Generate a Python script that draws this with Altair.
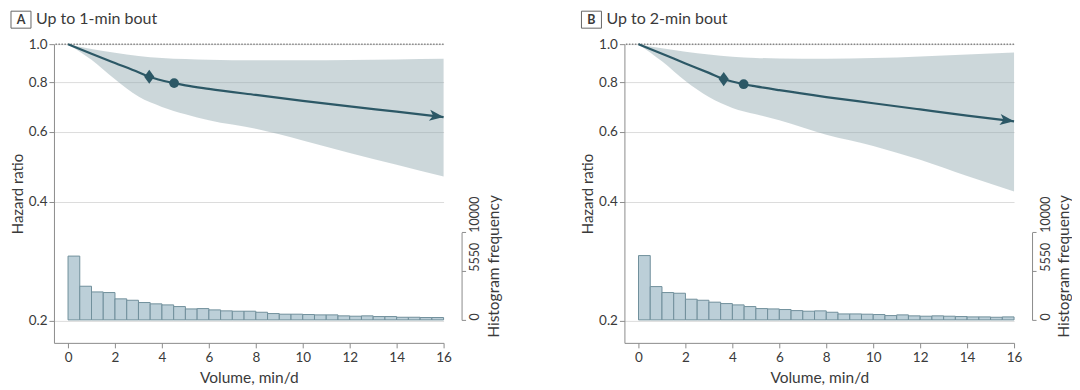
import altair as alt
import pandas as pd

FONT = "Lato"
INK = "#3a3a3a"
AXIS_GREY = "#8c8c8c"
GRID_GREY = "#dcdcdc"
CURVE = "#2c5866"
BAND = "#8fa6ae"
BAR_FILL = "#bccfd8"
BAR_EDGE = "#70909c"

panel_letters = ["A", "B"]
panel_titles = ["Up to 1-min bout", "Up to 2-min bout"]

hr_ticks = [0.2, 0.4, 0.6, 0.8, 1.0]
volume_ticks = [0, 2, 4, 6, 8, 10, 12, 14, 16]
freq_ticks = [0, 5550, 10000]
reference_hr = [1.0]

# confidence band
band_volume = [0, 1, 2, 3, 4, 5, 6, 8, 10, 12, 14, 16]
a_ci_lower = [1.0, 0.913, 0.815, 0.737, 0.694, 0.665, 0.642, 0.611, 0.571, 0.531, 0.496, 0.463]
a_ci_upper = [1.0, 0.972, 0.951, 0.934, 0.923, 0.917, 0.913, 0.910, 0.910, 0.912, 0.915, 0.918]
b_ci_lower = [1.0, 0.905, 0.807, 0.735, 0.690, 0.665, 0.642, 0.590, 0.553, 0.510, 0.464, 0.424]
b_ci_upper = [1.0, 0.976, 0.957, 0.941, 0.929, 0.923, 0.920, 0.918, 0.922, 0.931, 0.941, 0.952]

# hazard-ratio curves
a_curve_volume = [0, 1, 2, 3, 3.46, 4.52, 5, 6, 8, 10, 12, 14, 16]
a_curve_hr = [1.0, 0.946, 0.896, 0.849, 0.827, 0.797, 0.787, 0.771, 0.744, 0.719, 0.696, 0.675, 0.654]
b_curve_volume = [0, 1, 2, 3, 3.63, 4.48, 5, 6, 8, 10, 12, 14, 16]
b_curve_hr = [1.0, 0.946, 0.894, 0.846, 0.816, 0.792, 0.782, 0.765, 0.735, 0.709, 0.684, 0.660, 0.638]

# highlighted points (diamond and dot)
a_diamond = [3.46, 0.827]
a_dot = [4.52, 0.797]
b_diamond = [3.63, 0.816]
b_dot = [4.48, 0.792]

# histogram of volume (0.5-min/d bins)
bin_start = [0.0, 0.5, 1.0, 1.5, 2.0, 2.5, 3.0, 3.5, 4.0, 4.5, 5.0, 5.5, 6.0, 6.5, 7.0, 7.5,
             8.0, 8.5, 9.0, 9.5, 10.0, 10.5, 11.0, 11.5, 12.0, 12.5, 13.0, 13.5, 14.0, 14.5, 15.0, 15.5]
bin_end = [0.5, 1.0, 1.5, 2.0, 2.5, 3.0, 3.5, 4.0, 4.5, 5.0, 5.5, 6.0, 6.5, 7.0, 7.5, 8.0,
           8.5, 9.0, 9.5, 10.0, 10.5, 11.0, 11.5, 12.0, 12.5, 13.0, 13.5, 14.0, 14.5, 15.0, 15.5, 16.0]
a_freq = [7280, 3840, 3190, 3120, 2400, 2240, 1980, 1830, 1710, 1520, 1250, 1290, 1140, 1030, 990, 990,
          870, 720, 650, 650, 610, 570, 570, 460, 420, 460, 380, 380, 300, 300, 270, 270]
b_freq = [7340, 3800, 3120, 3040, 2360, 2240, 2020, 1860, 1710, 1520, 1290, 1250, 1180, 1060, 990, 1030,
          870, 680, 680, 650, 610, 490, 570, 460, 420, 460, 420, 380, 340, 340, 300, 340]

ARROW = "M1,0L-1,-0.8L-0.5,0L-1,0.8Z"
DIAMOND = "M0,-1L0.72,0L0,1L-0.72,0Z"

W, H = 390, 299


def panel(letter, title, curve_v, curve_hr, lo, hi, diamond, dot, freq):
    xs = alt.Scale(domain=[-0.6, 16], nice=False, zero=False)
    ys = alt.Scale(type="log", domain=[0.1758, 1.0], nice=False)
    x_axis = alt.Axis(values=volume_ticks, format="d", title="Volume, min/d", grid=False,
                      tickSize=5, labelPadding=3, titlePadding=6, labelFlush=False)
    y_axis = alt.Axis(values=hr_ticks, format=".1f", title="Hazard ratio", grid=True,
                      gridColor=GRID_GREY, tickSize=5, labelPadding=2, titlePadding=3,
                      titleFontSize=15)

    def X(f):
        return alt.X(f, type="quantitative", scale=xs, axis=x_axis)

    def Y(f):
        return alt.Y(f, type="quantitative", scale=ys, axis=y_axis)

    band_df = pd.DataFrame({"volume": band_volume, "lower": lo, "upper": hi})
    curve_df = pd.DataFrame({"volume": curve_v, "hr": curve_hr})
    ref_df = pd.DataFrame({"hr": reference_hr})
    dia_df = pd.DataFrame({"volume": [diamond[0]], "hr": [diamond[1]]})
    dot_df = pd.DataFrame({"volume": [dot[0]], "hr": [dot[1]]})
    end_df = curve_df.tail(1)
    hist_df = pd.DataFrame({"start": bin_start, "end": bin_end, "freq": freq})
    hdr_df = pd.DataFrame({"letter": [letter], "title": [title]})

    band = alt.Chart(band_df).mark_area(color=BAND, opacity=0.45, interpolate="monotone").encode(
        x=X("volume"), y=Y("lower"), y2="upper:Q")
    ref = alt.Chart(ref_df).mark_rule(color="#555555", strokeDash=[1.5, 1.5], strokeWidth=1).encode(
        y=Y("hr"))
    curve = alt.Chart(curve_df).mark_line(color=CURVE, strokeWidth=2.2, interpolate="monotone").encode(
        x=X("volume"), y=Y("hr"))
    dia = alt.Chart(dia_df).mark_point(shape=DIAMOND, size=200, filled=True, fill=CURVE,
                                       strokeWidth=0, opacity=1).encode(x=X("volume"), y=Y("hr"))
    dt = alt.Chart(dot_df).mark_point(shape="circle", size=95, filled=True, fill=CURVE,
                                      strokeWidth=0, opacity=1).encode(x=X("volume"), y=Y("hr"))
    arrow = alt.Chart(end_df).mark_point(shape=ARROW, size=200, filled=True, fill=CURVE, strokeWidth=0,
                                         opacity=1, angle=7, xOffset=-7, yOffset=-1).encode(
        x=X("volume"), y=Y("hr"))

    hr_layers = alt.layer(band, ref, curve, dia, dt, arrow)

    hist = alt.Chart(hist_df).mark_bar(fill=BAR_FILL, stroke=BAR_EDGE, strokeWidth=1, opacity=1).encode(
        x=X("start"), x2="end:Q",
        y=alt.Y("freq:Q", scale=alt.Scale(domain=[0, 10000], range=[276, 188.3], nice=False),
                axis=alt.Axis(orient="right", offset=18, values=freq_ticks, format="d",
                              title="Histogram frequency", grid=False, tickSize=4,
                              labelAngle=270, labelAlign="left", labelBaseline="top",
                              labelFontSize=12.5, labelPadding=3, labelFlush=False, labelOverlap=False,
                              titleAngle=270, titleBaseline="top", titlePadding=5, titleY=222)),
        y2=alt.datum(0))

    box = alt.Chart(hdr_df).mark_rect(fill="white", stroke="#666666", strokeWidth=1).encode(
        x=alt.value(-43), x2=alt.value(-23), y=alt.value(-33), y2=alt.value(-16))
    let = alt.Chart(hdr_df).mark_text(font=FONT, fontSize=12.5, fontWeight="bold", color=INK,
                                      align="center", baseline="middle").encode(
        x=alt.value(-33), y=alt.value(-24.5), text="letter:N")
    ttl = alt.Chart(hdr_df).mark_text(font=FONT, fontSize=16, color=INK, align="left",
                                      baseline="middle").encode(
        x=alt.value(-18), y=alt.value(-25), text="title:N")

    return alt.layer(hr_layers, hist, box, let, ttl).resolve_scale(y="independent").properties(
        width=W, height=H)


pa = panel(panel_letters[0], panel_titles[0], a_curve_volume, a_curve_hr, a_ci_lower, a_ci_upper,
           a_diamond, a_dot, a_freq)
pb = panel(panel_letters[1], panel_titles[1], b_curve_volume, b_curve_hr, b_ci_lower, b_ci_upper,
           b_diamond, b_dot, b_freq)

chart = alt.hconcat(pa, pb, spacing=181, bounds="flush").properties(
    padding={"left": 2, "top": 2, "right": 0, "bottom": 0}).configure_view(
    stroke=None).configure_axis(
    labelFont=FONT, titleFont=FONT, labelColor=INK, titleColor=INK, labelFontSize=13.5,
    titleFontSize=15.5, titleFontWeight="normal", domainColor=AXIS_GREY, tickColor=AXIS_GREY)

chart.save("out.html", embed_options={"renderer": "svg", "actions": False})
